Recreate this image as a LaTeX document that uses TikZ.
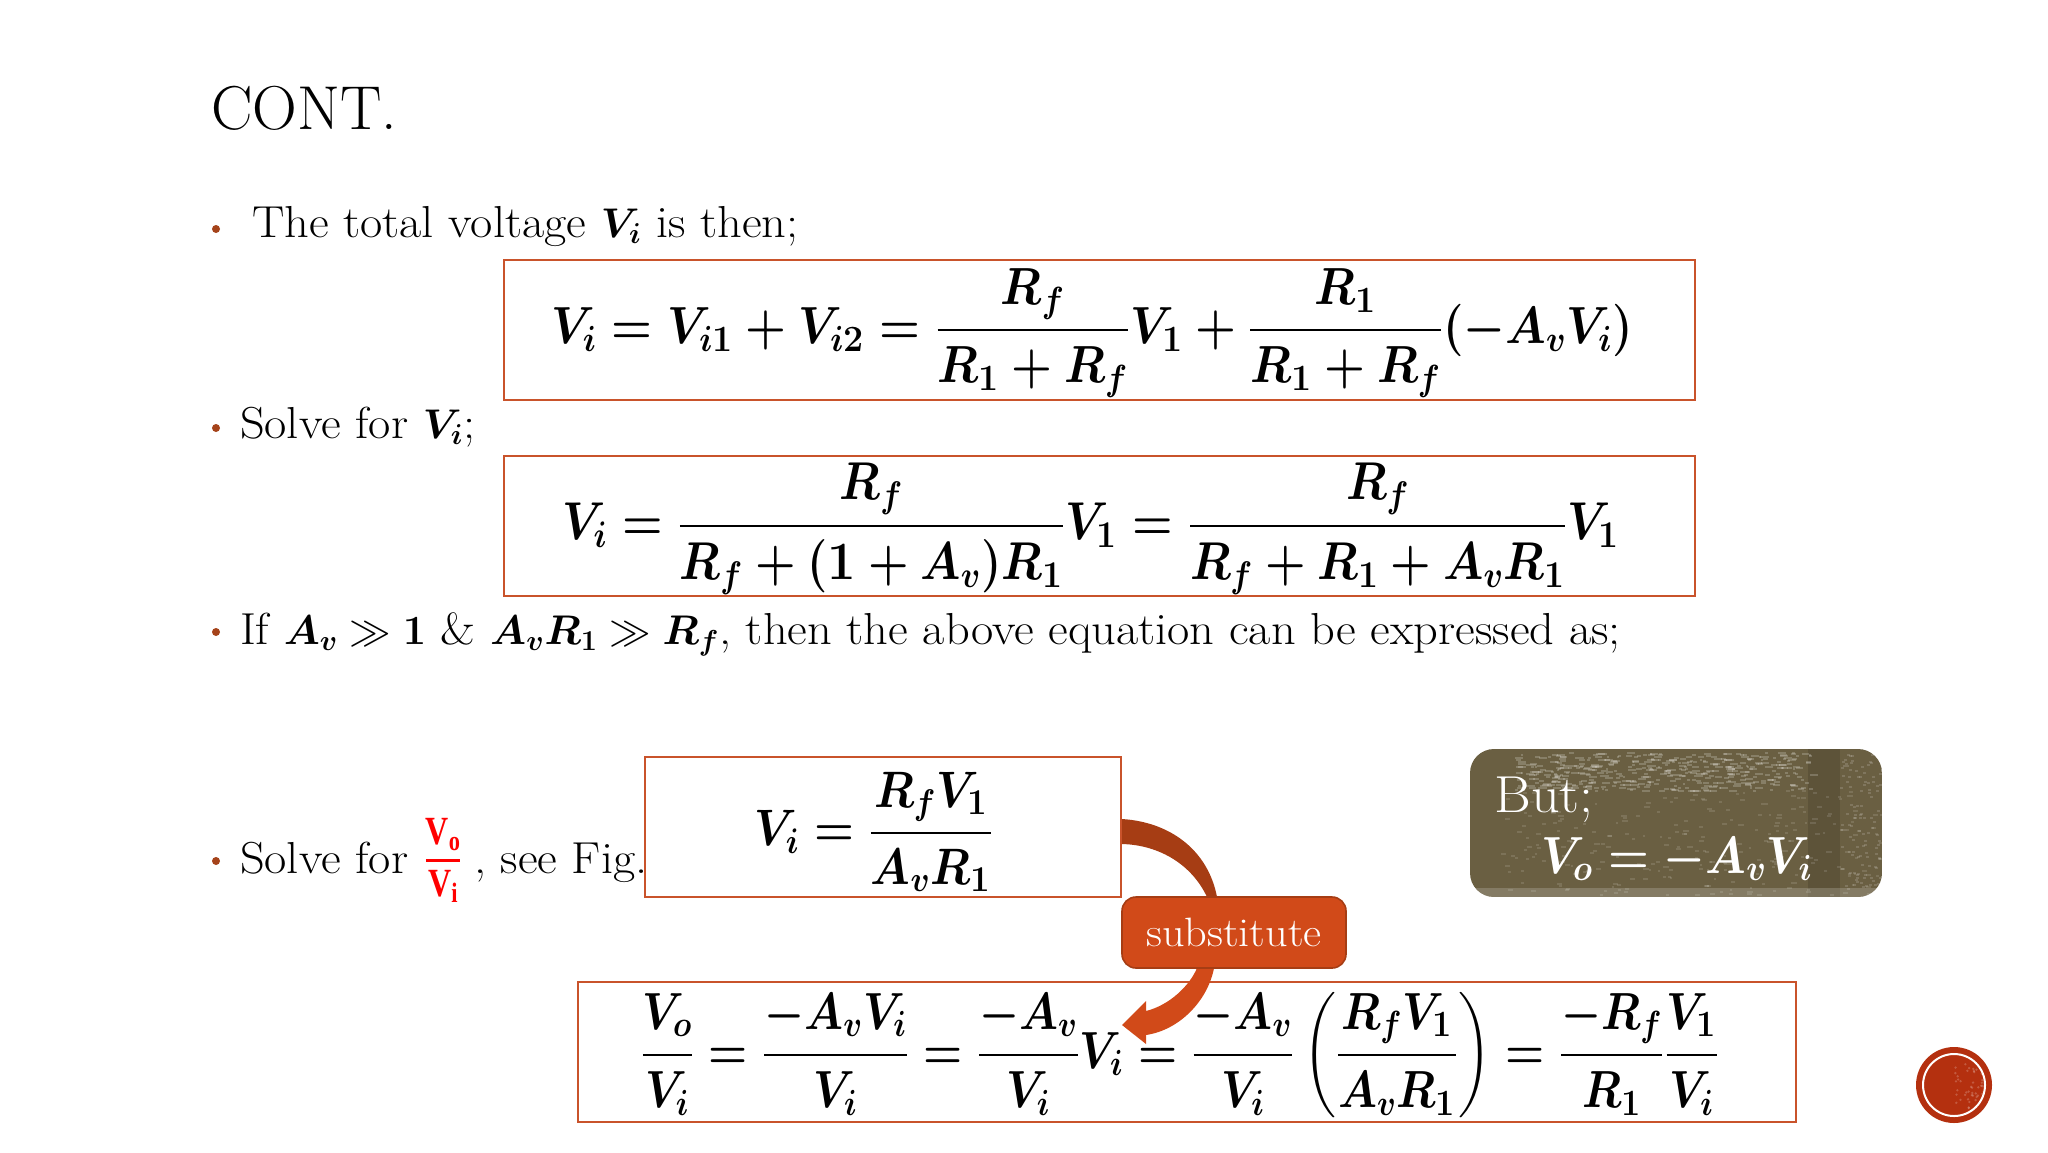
\documentclass[tikz,border=0pt]{standalone}
\usepackage{amsmath}
\usepackage[no-math]{fontspec}
\setmainfont{Latin Modern Roman}[FakeStretch=1.08]
\newfontfamily\titlefont{Latin Modern Roman}
\newfontfamily\fracfont{Liberation Serif}
\usetikzlibrary{calc}
\definecolor{boxline}{HTML}{C9532B}
\definecolor{bulletc}{HTML}{A5431A}
\definecolor{subst}{HTML}{D14A19}
\definecolor{arrowdark}{HTML}{A63D14}
\definecolor{olive}{HTML}{6A5F42}
\definecolor{ballred}{HTML}{B4300F}
\newcommand{\bodysize}{\fontsize{22.4}{26}\selectfont}
\newcommand{\eqsize}{\fontsize{25.2}{30}\selectfont\boldmath}
\newcommand{\bd}[1]{\text{\bfseries #1}}
\newcommand{\redsym}[2]{\hbox{\fracfont\bfseries\fontsize{20}{22}\selectfont #1\raisebox{-3pt}{\fontsize{14}{16}\selectfont #2}}}
\tikzset{
  x=0.5pt,y=-0.5pt,
  eqbox/.style={draw=boxline,line width=1pt,fill=white,inner sep=0pt,outer sep=0pt},
  eqn/.style={inner sep=0pt,outer sep=0pt,text=black,font=\eqsize},
  line/.style={anchor=base west,inner sep=0pt,outer sep=0pt,font=\bodysize,text=black},
  dot/.style={circle,fill=bulletc,inner sep=0pt,minimum size=4pt},
}
\begin{document}
\begin{tikzpicture}
\useasboundingbox (0,0) rectangle (2048,1152);
\fill[white] (0,0) rectangle (2048,1152);

\node[anchor=base west,inner sep=0pt,font=\titlefont\fontsize{31}{36}\selectfont] (title) at (211,129) {CONT.};

% text lines
\node[dot] (b1) at (216,229) {};
\node[line] (l1) at (252,237) {The total voltage $\boldsymbol{V_i}$ is then;};
\node[dot] (b2) at (216,428) {};
\node[line] (l2) at (240,438) {Solve for $\boldsymbol{V_i}$;};
\node[dot] (b3) at (216,632) {};
\node[line] (l3) at (240,644) {If $\boldsymbol{A_v}\gg\boldsymbol{1}$ \& $\boldsymbol{A_vR_1}\gg\boldsymbol{R_f}$, then the above equation can be expressed as;};
\node[dot] (b4) at (216,861) {};
\node[line] (l4a) at (240,873) {Solve for};
\node[inner sep=0pt,text=red,font=\fontsize{18}{22}\selectfont] (fr) at (443,860) {\scalebox{0.8}[1]{$\genfrac{}{}{1.4pt}{0}{\redsym{V}{o}}{\redsym{V}{i}}$}};
\node[line] (l4b) at (474,873) {, see Fig.};

% equation boxes
\node[eqbox,minimum width=595.5pt,minimum height=70pt] (box1) at (1099.5,330) {};
\node[eqbox,minimum width=595.5pt,minimum height=70pt] (box2) at (1099.5,526) {};
\node[eqbox,minimum width=238pt,minimum height=70pt] (box3) at (883,827) {};
\node[eqbox,minimum width=609pt,minimum height=70pt] (box4) at (1187,1052) {};

\node[eqn] (eq1) at (1092,333) {\scalebox{0.94}[1.05]{$V_i=V_{i\bd{1}}+V_{i\bd{2}}=\dfrac{R_f}{R_{\bd{1}}+R_f}V_{\bd{1}}+\dfrac{R_{\bd{1}}}{R_{\bd{1}}+R_f}(-A_vV_i)$}};
\node[eqn] (eq2) at (1091,529) {\scalebox{0.932}[1.07]{$V_i=\dfrac{R_f}{R_f+(\bd{1}+A_v)R_{\bd{1}}}V_{\bd{1}}=\dfrac{R_f}{R_f+R_{\bd{1}}+A_vR_{\bd{1}}}V_{\bd{1}}$}};
\node[eqn] (eq3) at (874,832) {\scalebox{0.917}[1.03]{$V_i=\dfrac{R_fV_{\bd{1}}}{A_vR_{\bd{1}}}$}};
\node[eqn] (eq4) at (1180,1055) {\scalebox{0.9}[1.05]{$\dfrac{V_o}{V_i}=\dfrac{-A_vV_i}{V_i}=\dfrac{-A_v}{V_i}V_i=\dfrac{-A_v}{V_i}\left(\dfrac{R_fV_{\bd{1}}}{A_vR_{\bd{1}}}\right)=\dfrac{-R_f}{R_{\bd{1}}}\dfrac{V_{\bd{1}}}{V_i}$}};

% curved arrow
\coordinate (a1) at (1122,819);
\coordinate (a2) at (1217,897);
\coordinate (a3) at (1207,897);
\coordinate (a4) at (1122,844);
\fill[arrowdark] (a1) .. controls (1170,822) and (1208,850) .. (a2) -- (a3) .. controls (1192,865) and (1160,845) .. (a4) -- cycle;
\coordinate (c1) at (1214,968);
\coordinate (c2) at (1197,968);
\coordinate (tip) at (1122,1025);
\fill[subst] (c1) .. controls (1208,1000) and (1180,1030) .. (1146,1035) -- (1146,1044) -- (tip) -- (1146,1001) -- (1146,1011) .. controls (1170,1005) and (1190,985) .. (c2) -- cycle;

\node[draw=arrowdark,line width=0.8pt,fill=subst,rounded corners=7pt,minimum width=112pt,minimum height=35.5pt,inner sep=0pt,text=white,font=\fontsize{20.5}{24}\selectfont] (sub) at (1234,932.5) {substitute};

% But panel
\begin{scope}
\clip[rounded corners=12pt] (1470,749) rectangle (1882,897);
\fill[olive] (1470,749) rectangle (1882,897);
\fill[black,opacity=.12] (1808,749) rectangle (1840,897);
\fill[white,opacity=.18] (1470,888) rectangle (1882,897);
\pgfmathsetseed{7}
% pale mottling in the top band
\foreach \i in {1,...,450}{
  \pgfmathsetmacro{\px}{1515+rnd*295}
  \pgfmathsetmacro{\py}{752+rnd*38}
  \pgfmathsetmacro{\pw}{2+rnd*7}
  \fill[white,opacity=.2] (\px,\py) rectangle ++(\pw,2);
}
% sparse mottling elsewhere
\foreach \i in {1,...,260}{
  \pgfmathsetmacro{\px}{1500+rnd*380}
  \pgfmathsetmacro{\py}{790+rnd*105}
  \pgfmathsetmacro{\pw}{2+rnd*4}
  \fill[white,opacity=.12] (\px,\py) rectangle ++(\pw,2);
}
\foreach \i in {1,...,120}{
  \pgfmathsetmacro{\px}{1840+rnd*42}
  \pgfmathsetmacro{\py}{752+rnd*140}
  \fill[white,opacity=.15] (\px,\py) rectangle ++(3,2);
}
\end{scope}
\node[anchor=base west,inner sep=0pt,text=white,font=\fontsize{26}{31}\selectfont] (but) at (1494,812) {But;};
\node[anchor=base west,inner sep=0pt,text=white,font=\eqsize] (vo) at (1541,873) {\scalebox{0.94}[1.05]{$V_o=-A_vV_i$}};

% ball
\node[circle,fill=ballred,minimum size=38pt,inner sep=0pt] (ball) at (1954,1085) {};
\draw[white,line width=1pt] (ball.center) circle[radius=31];
\pgfmathsetseed{3}
\begin{scope}
\clip (ball.center) circle[radius=30];
\foreach \i in {1,...,50}{
  \pgfmathsetmacro{\px}{1955+rnd*30}
  \pgfmathsetmacro{\py}{1060+rnd*50}
  \fill[white,opacity=.2] (\px,\py) circle[radius=1.3];
}
\end{scope}
\end{tikzpicture}
\end{document}
